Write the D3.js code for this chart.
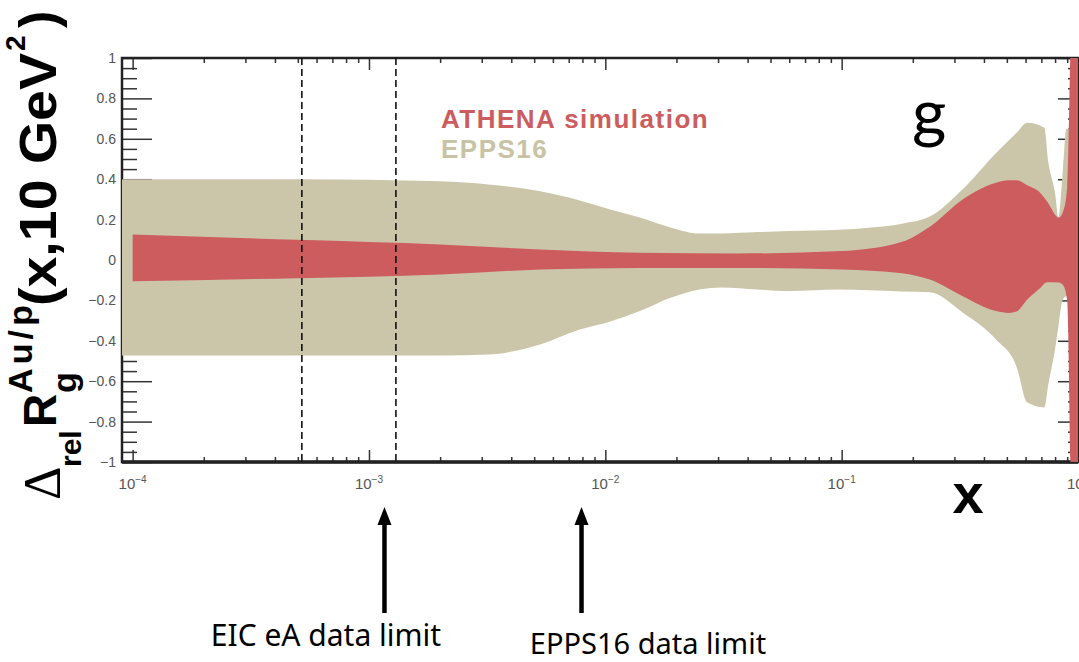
<!DOCTYPE html>
<html>
<head>
<meta charset="utf-8">
<script src="https://cdn.jsdelivr.net/npm/d3@7"></script>
<style>
  body { margin: 0; background: #fff; }
  svg { display: block; font-family: "Liberation Sans", Arial, sans-serif; }
</style>
</head>
<body>
<svg id="chart" width="1079" height="662"></svg>
<script>
// EPPS16 band (tan)
const eppsX     = [9e-5, 5e-4, 2e-3, 3.2e-3, 5.3e-3, 7.8e-3, 0.0105, 0.014, 0.019, 0.025, 0.031, 0.044, 0.06, 0.098, 0.13, 0.18, 0.236, 0.325, 0.45, 0.55, 0.61, 0.72, 0.75, 0.80, 0.826, 0.86, 0.893, 1];
const eppsUpper = [0.40, 0.40, 0.39, 0.374, 0.34, 0.295, 0.25, 0.21, 0.16, 0.131, 0.131, 0.138, 0.143, 0.15, 0.16, 0.18, 0.215, 0.35, 0.53, 0.63, 0.68, 0.655, 0.48, 0.33, 0.21, 0.42, 0.65, 0.65];
const eppsLower = [-0.473, -0.473, -0.473, -0.468, -0.418, -0.344, -0.304, -0.253, -0.186, -0.146, -0.136, -0.146, -0.154, -0.146, -0.15, -0.156, -0.16, -0.26, -0.394, -0.53, -0.706, -0.73, -0.61, -0.44, -0.33, -0.20, -0.18, -0.18];

// ATHENA simulation band (red)
const athenaX     = [1e-4, 5e-4, 2e-3, 5.3e-3, 0.014, 0.036, 0.1, 0.18, 0.236, 0.325, 0.45, 0.51, 0.55, 0.61, 0.69, 0.74, 0.83, 0.865, 0.9, 0.945, 1];
const athenaUpper = [0.126, 0.10, 0.077, 0.052, 0.036, 0.032, 0.044, 0.09, 0.165, 0.30, 0.383, 0.395, 0.395, 0.37, 0.334, 0.29, 0.21, 0.24, 0.36, 1.3, 1.3];
const athenaLower = [-0.105, -0.09, -0.072, -0.047, -0.039, -0.039, -0.047, -0.065, -0.097, -0.179, -0.253, -0.262, -0.255, -0.196, -0.14, -0.11, -0.112, -0.125, -0.2, -1.3, -1.3];

// axes
const xTicks = [1e-4, 1e-3, 1e-2, 1e-1, 1];
const xTickExp = ["\u22124", "\u22123", "\u22122", "\u22121", "0"];
const yTicks = [1, 0.8, 0.6, 0.4, 0.2, 0, -0.2, -0.4, -0.6, -0.8, -1];
const yTickLabels = ["1", "0.8", "0.6", "0.4", "0.2", "0", "\u22120.2", "\u22120.4", "\u22120.6", "\u22120.8", "\u22121"];

// annotations
const dashedX = [5.2e-4, 1.3e-3];
const arrowX = [1.163e-3, 7.93e-3];
const arrowLabels = ["EIC eA data limit", "EPPS16 data limit"];

const red = "#cd5c5f", tan = "#cbc6aa";

const svg = d3.select("#chart");
const x = d3.scaleLog().domain([Math.pow(10, -4.045), 1]).range([122, 1078]);
const y = d3.scaleLinear().domain([-1, 1]).range([462, 58]);

// minor ticks: 2..9 of each decade, 0.05 steps on y
const xMinor = [];
for (let d = -5; d <= 0; d++)
  for (let k = 2; k <= 9; k++) {
    const v = k * Math.pow(10, d);
    if (v > x.domain()[0] && v < 1) xMinor.push(v);
  }
const yMinor = d3.range(-20, 21).map(i => i * 0.05).filter(v => Math.abs(Math.round(v * 5) - v * 5) > 1e-6);

function ticks(axis, tr) {
  const g = svg.append("g").attr("transform", tr).call(axis);
  g.select(".domain").remove();
  g.selectAll("line").attr("stroke", "#333").attr("stroke-width", 1.5);
  g.selectAll("text").remove();
}
ticks(d3.axisBottom(x).tickValues(xMinor).tickSize(-5), "translate(0,462)");
ticks(d3.axisBottom(x).tickValues(xTicks).tickSize(-12), "translate(0,462)");
ticks(d3.axisTop(x).tickValues(xMinor).tickSize(-5), "translate(0,58)");
ticks(d3.axisTop(x).tickValues(xTicks).tickSize(-12), "translate(0,58)");
ticks(d3.axisLeft(y).tickValues(yMinor).tickSize(-15), "translate(122,0)");
ticks(d3.axisLeft(y).tickValues(yTicks).tickSize(-30), "translate(122,0)");
ticks(d3.axisRight(y).tickValues(yMinor).tickSize(-10), "translate(1078,0)");
ticks(d3.axisRight(y).tickValues(yTicks).tickSize(-20), "translate(1078,0)");

// frame
svg.append("rect").attr("x", 122).attr("y", 58).attr("width", 956).attr("height", 404)
  .attr("fill", "none").attr("stroke", "#222").attr("stroke-width", 2.5);
svg.append("line").attr("x1", 122).attr("x2", 1078).attr("y1", 462).attr("y2", 462)
  .attr("stroke", "#222").attr("stroke-width", 3.5);

// tick labels
svg.append("g").selectAll("text").data(yTicks).join("text")
  .attr("x", 116).attr("y", d => y(d)).attr("dy", "0.35em")
  .attr("text-anchor", "end").attr("font-size", 14).attr("fill", "#555")
  .text((d, i) => yTickLabels[i]);

const xl = svg.append("g").selectAll("text").data(xTicks).join("text")
  .attr("x", d => x(d)).attr("y", 489)
  .attr("text-anchor", "middle").attr("font-size", 15).attr("fill", "#555");
xl.append("tspan").text("10");
xl.append("tspan").attr("dy", -6).attr("font-size", 10).text((d, i) => xTickExp[i]);

// bands
svg.append("clipPath").attr("id", "plot").append("rect")
  .attr("x", 122).attr("y", 58).attr("width", 956).attr("height", 404);

const band = (xs, up, lo) => d3.area()
  .x((d, i) => x(xs[i])).y0((d, i) => y(lo[i])).y1((d, i) => y(up[i]))
  .curve(d3.curveMonotoneX)(xs);

svg.append("path").attr("clip-path", "url(#plot)").attr("fill", tan)
  .attr("d", band(eppsX, eppsUpper, eppsLower));
svg.append("path").attr("clip-path", "url(#plot)").attr("fill", red)
  .attr("d", band(athenaX, athenaUpper, athenaLower));

// dashed lines
svg.append("g").selectAll("line").data(dashedX).join("line")
  .attr("x1", d => x(d)).attr("x2", d => x(d)).attr("y1", 58).attr("y2", 462)
  .attr("stroke", "#111").attr("stroke-width", 1.6).attr("stroke-dasharray", "7,4");

// legend + labels
svg.append("text").attr("x", 441).attr("y", 128).attr("font-size", 26).attr("font-weight", "bold")
  .attr("letter-spacing", 1.5).attr("fill", red).text("ATHENA simulation");
svg.append("text").attr("x", 441).attr("y", 158).attr("font-size", 26).attr("font-weight", "bold")
  .attr("letter-spacing", 1.5).attr("fill", "#c9c3a5").text("EPPS16");
svg.append("text").attr("x", 912).attr("y", 136).attr("font-size", 66)
  .style("font-family", "Lato, sans-serif").attr("fill", "#000").text("g");
svg.append("text").attr("x", 968).attr("y", 513).attr("text-anchor", "middle")
  .attr("font-size", 56).attr("font-weight", "bold").text("x");

// y title
const yt = svg.append("g").attr("transform", "translate(56,500) rotate(-90)")
  .attr("font-weight", "bold").attr("fill", "#000");
yt.append("text").attr("x", 0).attr("y", 4).attr("font-size", 52).attr("font-weight", "normal")
  .style("font-family", "'Liberation Serif', serif").text("\u0394");
yt.append("text").attr("x", 33).attr("y", 25).attr("font-size", 30).text("rel");
yt.append("text").attr("x", 73).attr("y", 0).attr("font-size", 46).text("R");
yt.append("text").attr("x", 107).attr("y", 20).attr("font-size", 34).text("g");
yt.append("text").attr("x", 107).attr("y", -24).attr("font-size", 34)
  .attr("textLength", 88).attr("lengthAdjust", "spacing").text("Au/p");
yt.append("text").attr("x", 194).attr("y", 0).attr("font-size", 52)
  .attr("textLength", 253).attr("lengthAdjust", "spacingAndGlyphs").text("(x,10 GeV");
yt.append("text").attr("x", 449).attr("y", -31).attr("font-size", 28).text("2");
yt.append("text").attr("x", 472).attr("y", 0).attr("font-size", 52).text(")");

// arrows
const ag = svg.append("g").selectAll("g").data(arrowX).join("g")
  .attr("transform", d => `translate(${x(d)},0)`);
ag.append("line").attr("x1", 0).attr("x2", 0).attr("y1", 613).attr("y2", 520)
  .attr("stroke", "#000").attr("stroke-width", 4.5);
ag.append("path").attr("d", "M0,507L7,525L-7,525Z").attr("fill", "#000");

svg.append("text").attr("x", 326).attr("y", 646).attr("text-anchor", "middle")
  .attr("font-size", 30).style("font-family", "'Noto Sans', sans-serif").text(arrowLabels[0]);
svg.append("text").attr("x", 648).attr("y", 654).attr("text-anchor", "middle")
  .attr("font-size", 29).style("font-family", "'Noto Sans', sans-serif").text(arrowLabels[1]);
</script>
</body>
</html>
